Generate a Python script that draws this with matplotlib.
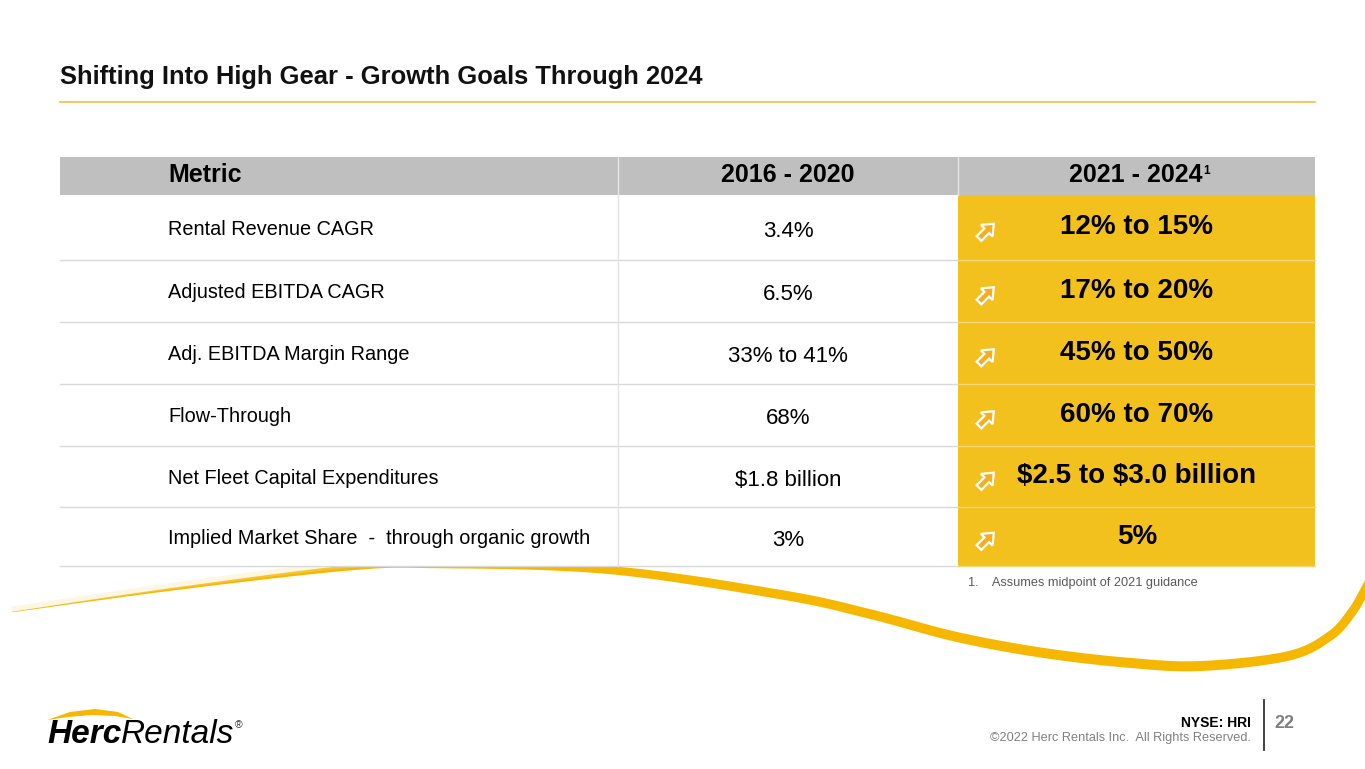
# Herc Rentals slide - growth goals table
import numpy as np
import matplotlib.pyplot as plt
from matplotlib.patches import Rectangle, Polygon

plt.rcParams['font.family'] = ['Liberation Sans', 'DejaVu Sans']

# table content
columns = ['Metric', '2016 - 2020', '2021 - 2024']
metrics = ['Rental Revenue CAGR', 'Adjusted EBITDA CAGR', 'Adj. EBITDA Margin Range',
           'Flow-Through', 'Net Fleet Capital Expenditures',
           'Implied Market Share  -  through organic growth']
hist_values = ['3.4%', '6.5%', '33% to 41%', '68%', '$1.8 billion', '3%']
goal_values = ['12% to 15%', '17% to 20%', '45% to 50%', '60% to 70%',
               '$2.5 to $3.0 billion', '5%']
footnote = '1.    Assumes midpoint of 2021 guidance'

YELLOW = '#F2C11E'
GOLD = '#F5B700'

fig = plt.figure(figsize=(13.65, 7.69), dpi=100)
ax = fig.add_axes([0, 0, 1, 1])
ax.set_xlim(0, 1365)
ax.set_ylim(769, 0)
ax.axis('off')

# title and rule
ax.text(60, 77, 'Shifting Into High Gear - Growth Goals Through 2024', fontsize=18.4,
        fontweight='bold', va='center', ha='left', color='#111111')
ax.plot([60, 1315], [102, 102], color='#F7BC45', lw=1.2)

# decorative swoosh behind the table
cp = np.array([(12, 612), (174, 589), (348, 568), (435, 565), (609, 570), (783, 595),
               (870, 614), (957, 637), (1044, 653), (1131, 663), (1201, 666),
               (1288, 656), (1330, 636), (1352, 612), (1366, 588), (1376, 568)], float)
pts = []
for i in range(len(cp) - 1):
    p0 = cp[max(i - 1, 0)]
    p1, p2 = cp[i], cp[i + 1]
    p3 = cp[min(i + 2, len(cp) - 1)]
    for t in np.linspace(0, 1, 20, endpoint=False):
        pts.append(0.5 * ((2 * p1) + (-p0 + p2) * t + (2 * p0 - 5 * p1 + 4 * p2 - p3) * t ** 2
                          + (-p0 + 3 * p1 - 3 * p2 + p3) * t ** 3))
pts.append(cp[-1])
pts = np.array(pts)
seg = np.gradient(pts, axis=0)
nrm = np.column_stack([-seg[:, 1], seg[:, 0]])
nrm /= np.linalg.norm(nrm, axis=1)[:, None]
w = np.interp(pts[:, 0], [12, 200, 400, 700, 1000, 1200, 1365], [0.3, 1.5, 3, 4.5, 5, 5, 4.5])
ax.add_patch(Polygon(np.vstack([pts + nrm * w[:, None], (pts - nrm * w[:, None])[::-1]]),
                     closed=True, fc=GOLD, ec='none', zorder=1))
# faint glow above the thin left end
n = 60
glow = np.vstack([pts[:n] - nrm[:n] * (w[:n, None] + 5), pts[:n][::-1]])
ax.add_patch(Polygon(glow, closed=True, fc='#FBE3A0', ec='none', alpha=0.3, zorder=1))

# table geometry
x_left, x_div1, x_div2, x_right = 60, 618, 958, 1315
y_head_top, y_head_bot = 157, 195
row_edges = [195, 260, 322, 384, 446, 507, 566]

ax.add_patch(Rectangle((x_left, y_head_top), x_right - x_left, y_head_bot - y_head_top,
                       fc='#BFBFBF', ec='none', zorder=2))
ax.add_patch(Rectangle((x_left, y_head_bot), x_div2 - x_left, row_edges[-1] - y_head_bot,
                       fc='white', ec='none', zorder=2))
ax.add_patch(Rectangle((x_div2, y_head_bot), x_right - x_div2, row_edges[-1] - y_head_bot,
                       fc=YELLOW, ec='none', zorder=2))
for y in row_edges[1:]:
    ax.plot([x_left, x_div2], [y, y], color='#D9D9D9', lw=1, zorder=3)
    ax.plot([x_div2, x_right], [y, y], color='#F7D77A', lw=1, zorder=3)
ax.plot([x_div1, x_div1], [y_head_top, y_head_bot], color='#E6E6E6', lw=1, zorder=3)
ax.plot([x_div2, x_div2], [y_head_top, y_head_bot], color='#E6E6E6', lw=1, zorder=3)
ax.plot([x_div1, x_div1], [y_head_bot, row_edges[-1]], color='#E3E3E3', lw=1, zorder=3)

# header
ax.text(168, 175, columns[0], fontsize=18, fontweight='bold', va='center', zorder=4)
ax.text(788, 175, columns[1], fontsize=18, fontweight='bold', va='center', ha='center', zorder=4)
hdr = ax.text(1136, 175, columns[2], fontsize=18, fontweight='bold', va='center',
              ha='center', zorder=4)
ax.annotate('1', xy=(1, 0.92), xycoords=hdr, fontsize=8.5, fontweight='bold',
            va='top', ha='left', zorder=4)


def arrow(cx, cy, s=11):
    # outlined arrow pointing up-right
    shape = np.array([(0, -1.0), (0.75, -0.1), (0.3, -0.1), (0.3, 0.9), (-0.3, 0.9),
                      (-0.3, -0.1), (-0.75, -0.1)]) * s
    a = np.deg2rad(45)
    rot = np.array([[np.cos(a), -np.sin(a)], [np.sin(a), np.cos(a)]])
    ax.add_patch(Polygon(shape @ rot.T + [cx, cy], closed=True, fc='#F8AE1C',
                         ec='white', lw=1.6, zorder=4))


for i in range(len(metrics)):
    yc = (row_edges[i] + row_edges[i + 1]) / 2
    ax.text(168, yc + 2, metrics[i], fontsize=14.3, va='center', ha='left', zorder=4,
            parse_math=False)
    ax.text(788, yc + 4, hist_values[i], fontsize=16, va='center', ha='center', zorder=4,
            parse_math=False)
    ax.text(1137, yc, goal_values[i], fontsize=20, fontweight='bold', va='center',
            ha='center', zorder=4, parse_math=False)
    arrow(986, yc + 4)

ax.text(968, 583, footnote, fontsize=9.2, color='#595959', va='center', ha='left')

# logo
ax.add_patch(Polygon([(47, 720), (70, 712), (95, 709), (118, 712), (133, 719),
                      (115, 716), (92, 715), (68, 717)], closed=True, fc=GOLD, ec='none'))
herc = ax.text(47, 743, 'Herc', fontsize=24, fontweight='bold', fontstyle='italic',
               va='baseline', ha='left', color='black')
rent = ax.annotate('Rentals', xy=(1, 0), xycoords=herc, fontsize=24, fontstyle='italic',
                   fontweight='light', va='bottom', ha='left', color='black')
ax.annotate('®', xy=(1, 0.95), xycoords=rent, fontsize=7.5, va='top', ha='left',
            color='#333333')

# footer
ax.text(1251, 723, 'NYSE: HRI', fontsize=10, fontweight='bold', va='center', ha='right')
ax.text(1251, 738, '©2022 Herc Rentals Inc.  All Rights Reserved.', fontsize=9.2,
        color='#808080', va='center', ha='right')
ax.plot([1264, 1264], [700, 750], color='#333333', lw=1.3)
ax.text(1274, 723, '22', fontsize=13, fontweight='bold', color='#808080', va='center',
        ha='left')

fig.savefig('out.png', dpi=100)
